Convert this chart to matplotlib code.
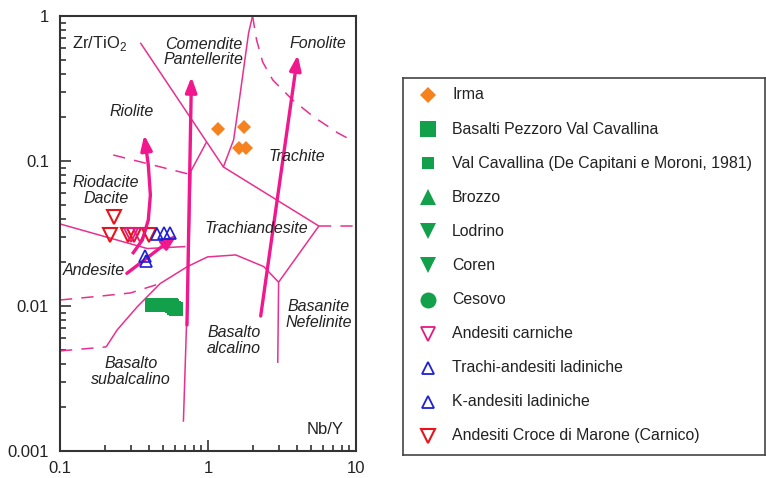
import matplotlib
matplotlib.use('Agg')
import matplotlib.pyplot as plt
from matplotlib.ticker import LogLocator, NullFormatter, FixedLocator, FixedFormatter

plt.rcParams['font.family'] = ['Liberation Sans', 'DejaVu Sans']

# ---------------- data ----------------
irma_nby = [1.17, 1.75, 1.62, 1.80]
irma_zr = [0.165, 0.172, 0.122, 0.122]

pezzoro_nby = [0.42, 0.44, 0.46, 0.48, 0.50, 0.52, 0.54, 0.56, 0.57, 0.59, 0.61]
pezzoro_zr = [0.0102, 0.0102, 0.0102, 0.0102, 0.0102, 0.0102, 0.0102, 0.0102, 0.0100, 0.0097, 0.0095]

croce_nby = [0.218, 0.230, 0.290, 0.314, 0.397]
croce_zr = [0.031, 0.041, 0.031, 0.031, 0.031]

carniche_nby = [0.300, 0.345]
carniche_zr = [0.031, 0.031]

trachi_nby = [0.452, 0.502, 0.551]
trachi_zr = [0.0312, 0.0318, 0.0318]

kand_nby = [0.377, 0.380]
kand_zr = [0.0222, 0.0204]

# classification boundaries (Nb/Y, Zr/TiO2)
bnd_rhy_com_x = [0.349, 1.27, 5.61]
bnd_rhy_com_y = [0.654, 0.091, 0.0356]
bnd_com_tr_x = [1.27, 1.49, 1.61, 1.88, 2.0]
bnd_com_tr_y = [0.091, 0.140, 0.243, 0.763, 1.0]
bnd_pho_x = [2.0, 2.13, 2.34, 2.74, 3.74, 5.19, 7.55, 8.97]
bnd_pho_y = [1.0, 0.683, 0.482, 0.362, 0.263, 0.201, 0.156, 0.142]
bnd_ta_dash_x = [5.61, 10.0]
bnd_ta_dash_y = [0.0356, 0.0356]
bnd_rhy_dash_x = [0.229, 0.738]
bnd_rhy_dash_y = [0.110, 0.0813]
bnd_branch_x = [0.767, 0.977]
bnd_branch_y = [0.0853, 0.135]
bnd_vert_x = [0.767, 0.743, 0.682]
bnd_vert_y = [0.0853, 0.0243, 0.00159]
bnd_and_x = [0.1, 0.389, 0.704]
bnd_and_y = [0.0368, 0.0249, 0.0257]
bnd_sub_x = [0.205, 0.243, 0.333, 0.476, 0.726, 0.992, 1.54, 2.38, 3.0, 5.61]
bnd_sub_y = [0.00522, 0.00683, 0.00989, 0.0143, 0.0187, 0.0218, 0.0225, 0.0187, 0.0146, 0.0356]
bnd_sub_dash_x = [0.1, 0.205]
bnd_sub_dash_y = [0.0049, 0.00522]
bnd_up_dash_x = [0.1, 0.187, 0.299, 0.476]
bnd_up_dash_y = [0.011, 0.0117, 0.0123, 0.0143]
bnd_bas_x = [3.0, 2.96]
bnd_bas_y = [0.0146, 0.00405]

arrow_rhy_x = [0.308, 0.360, 0.395, 0.408, 0.395, 0.371]
arrow_rhy_y = [0.0228, 0.0285, 0.0392, 0.0583, 0.0938, 0.151]
arrow_com_x = [0.721, 0.773]
arrow_com_y = [0.0074, 0.380]
arrow_pho_x = [2.27, 4.04]
arrow_pho_y = [0.00853, 0.538]
arrow_and_x = [0.283, 0.618]
arrow_and_y = [0.0168, 0.0309]

x_ticks = [0.1, 1, 10]
x_ticklabels = ['0.1', '1', '10']
y_ticks = [0.001, 0.01, 0.1, 1]
y_ticklabels = ['0.001', '0.01', '0.1', '1']

legend_labels = ['Irma', 'Basalti Pezzoro Val Cavallina',
                 'Val Cavallina (De Capitani e Moroni, 1981)', 'Brozzo',
                 'Lodrino', 'Coren', 'Cesovo', 'Andesiti carniche',
                 'Trachi-andesiti ladiniche', 'K-andesiti ladiniche',
                 'Andesiti Croce di Marone (Carnico)']

# ---------------- style ----------------
ORANGE = '#f5821f'
GREEN = '#13a04a'
RED = '#e8141c'
MAG = '#e6197f'
BLUE = '#1f1fd6'
LINE = '#e8308e'
ARROW = '#f0188c'
TXT = '#222222'

legend_styles = [
    dict(marker='D', ms=8.5, mfc=ORANGE, mec=ORANGE, mew=0),
    dict(marker='s', ms=11.5, mfc=GREEN, mec=GREEN, mew=0),
    dict(marker='s', ms=8.3, mfc=GREEN, mec=GREEN, mew=0),
    dict(marker='^', ms=12, mfc=GREEN, mec=GREEN, mew=0),
    dict(marker='v', ms=12, mfc=GREEN, mec=GREEN, mew=0),
    dict(marker='v', ms=12, mfc=GREEN, mec=GREEN, mew=0),
    dict(marker='o', ms=11.5, mfc=GREEN, mec=GREEN, mew=0),
    dict(marker='v', ms=9.5, mfc='none', mec=MAG, mew=1.3),
    dict(marker='^', ms=9, mfc='none', mec=BLUE, mew=1.3),
    dict(marker='^', ms=9, mfc='none', mec=BLUE, mew=1.3),
    dict(marker='v', ms=9.5, mfc='none', mec=RED, mew=1.5),
]

fig = plt.figure(figsize=(7.66, 4.78), dpi=100)
ax = fig.add_axes([60 / 766, 27 / 478, 296 / 766, 435 / 478])
ax.set_xscale('log')
ax.set_yscale('log')
ax.set_xlim(0.1, 10)
ax.set_ylim(0.001, 1)

thin = dict(color=LINE, lw=1.1, solid_capstyle='butt', zorder=2)
dash = dict(color=LINE, lw=1.1, ls=(0, (8, 6)), zorder=2)
ax.plot(bnd_rhy_com_x, bnd_rhy_com_y, **thin)
ax.plot(bnd_com_tr_x, bnd_com_tr_y, **thin)
ax.plot(bnd_pho_x, bnd_pho_y, **dash)
ax.plot(bnd_ta_dash_x, bnd_ta_dash_y, **dash)
ax.plot(bnd_rhy_dash_x, bnd_rhy_dash_y, **dash)
ax.plot(bnd_branch_x, bnd_branch_y, **thin)
ax.plot(bnd_vert_x, bnd_vert_y, **thin)
ax.plot(bnd_and_x, bnd_and_y, **thin)
ax.plot(bnd_sub_x, bnd_sub_y, **thin)
ax.plot(bnd_sub_dash_x, bnd_sub_dash_y, **dash)
ax.plot(bnd_up_dash_x, bnd_up_dash_y, **dash)
ax.plot(bnd_bas_x, bnd_bas_y, **thin)


def draw_arrow(xs, ys):
    ax.plot(xs[:-1], ys[:-1], color=ARROW, lw=2.4, solid_capstyle='butt',
            solid_joinstyle='round', zorder=3)
    ax.annotate('', xy=(xs[-1], ys[-1]), xytext=(xs[-2], ys[-2]),
                arrowprops=dict(arrowstyle='-|>,head_length=0.9,head_width=0.34',
                                color=ARROW, lw=2.4, mutation_scale=10,
                                shrinkA=0, shrinkB=0), zorder=3)


draw_arrow(arrow_rhy_x, arrow_rhy_y)
draw_arrow(arrow_com_x, arrow_com_y)
draw_arrow(arrow_pho_x, arrow_pho_y)
draw_arrow(arrow_and_x, arrow_and_y)

# data points
ax.plot(pezzoro_nby, pezzoro_zr, ls='none', marker='s', ms=9.7,
        mfc=GREEN, mec=GREEN, mew=0, zorder=4)
ax.plot(irma_nby, irma_zr, ls='none', marker='D', ms=7.5,
        mfc=ORANGE, mec=ORANGE, mew=0, zorder=4)
ax.plot(croce_nby, croce_zr, ls='none', marker='v', ms=9.5,
        mfc='none', mec=RED, mew=1.5, zorder=4)
ax.plot(carniche_nby, carniche_zr, ls='none', marker='v', ms=9.5,
        mfc='none', mec=MAG, mew=1.3, zorder=4)
ax.plot(trachi_nby, trachi_zr, ls='none', marker='^', ms=8.5,
        mfc='none', mec=BLUE, mew=1.2, zorder=4)
ax.plot(kand_nby, kand_zr, ls='none', marker='^', ms=8.5,
        mfc='none', mec=BLUE, mew=1.2, zorder=4)

# field labels
lab = dict(fontsize=11.5, style='italic', color=TXT, ha='center', va='center',
           linespacing=1.05, zorder=5)
ax.text(0.932, 0.565, 'Comendite\nPantellerite', **lab)
ax.text(5.53, 0.651, 'Fonolite', **lab)
ax.text(0.303, 0.218, 'Riolite', **lab)
ax.text(3.98, 0.1066, 'Trachite', **lab)
ax.text(0.205, 0.0626, 'Riodacite\nDacite', **lab)
ax.text(2.13, 0.0345, 'Trachiandesite', **lab)
ax.text(0.170, 0.0177, 'Andesite', **lab)
ax.text(0.303, 0.00353, 'Basalto\nsubalcalino', **lab)
ax.text(1.49, 0.00578, 'Basalto\nalcalino', **lab)
ax.text(5.61, 0.00874, 'Basanite\nNefelinite', **lab)
ax.text(6.16, 0.0014, 'Nb/Y', fontsize=12, color=TXT, ha='center', va='center')
ax.text(0.1206, 0.651, r'Zr/TiO$_\mathregular{2}$', fontsize=12, color=TXT,
        ha='left', va='center')

# axes styling
ax.xaxis.set_major_locator(FixedLocator(x_ticks))
ax.xaxis.set_major_formatter(FixedFormatter(x_ticklabels))
ax.yaxis.set_major_locator(FixedLocator(y_ticks))
ax.yaxis.set_major_formatter(FixedFormatter(y_ticklabels))
ax.xaxis.set_minor_locator(LogLocator(base=10, subs=range(2, 10)))
ax.yaxis.set_minor_locator(LogLocator(base=10, subs=range(2, 10)))
ax.xaxis.set_minor_formatter(NullFormatter())
ax.yaxis.set_minor_formatter(NullFormatter())
ax.tick_params(which='both', direction='in', top=False, right=False,
               color='#333333', width=1.2, labelsize=12, labelcolor=TXT)
ax.tick_params(which='major', length=8)
ax.tick_params(which='minor', length=4.5)
ax.tick_params(axis='y', pad=8)
ax.tick_params(axis='x', pad=7)
for sp in ax.spines.values():
    sp.set_color('#333333')
    sp.set_linewidth(1.5)

# legend box
lax = fig.add_axes([403 / 766, 23 / 478, 362 / 766, 377 / 478])
lax.set_xlim(0, 362)
lax.set_ylim(377, 0)
lax.set_xticks([])
lax.set_yticks([])
for sp in lax.spines.values():
    sp.set_color('#444444')
    sp.set_linewidth(1.2)
for i, (label, st) in enumerate(zip(legend_labels, legend_styles)):
    yy = 17 + i * 34.1
    lax.plot([25], [yy], ls='none', **st)
    lax.text(49, yy, label, fontsize=11.4, color=TXT, ha='left', va='center')

fig.savefig('out.png', dpi=100)
